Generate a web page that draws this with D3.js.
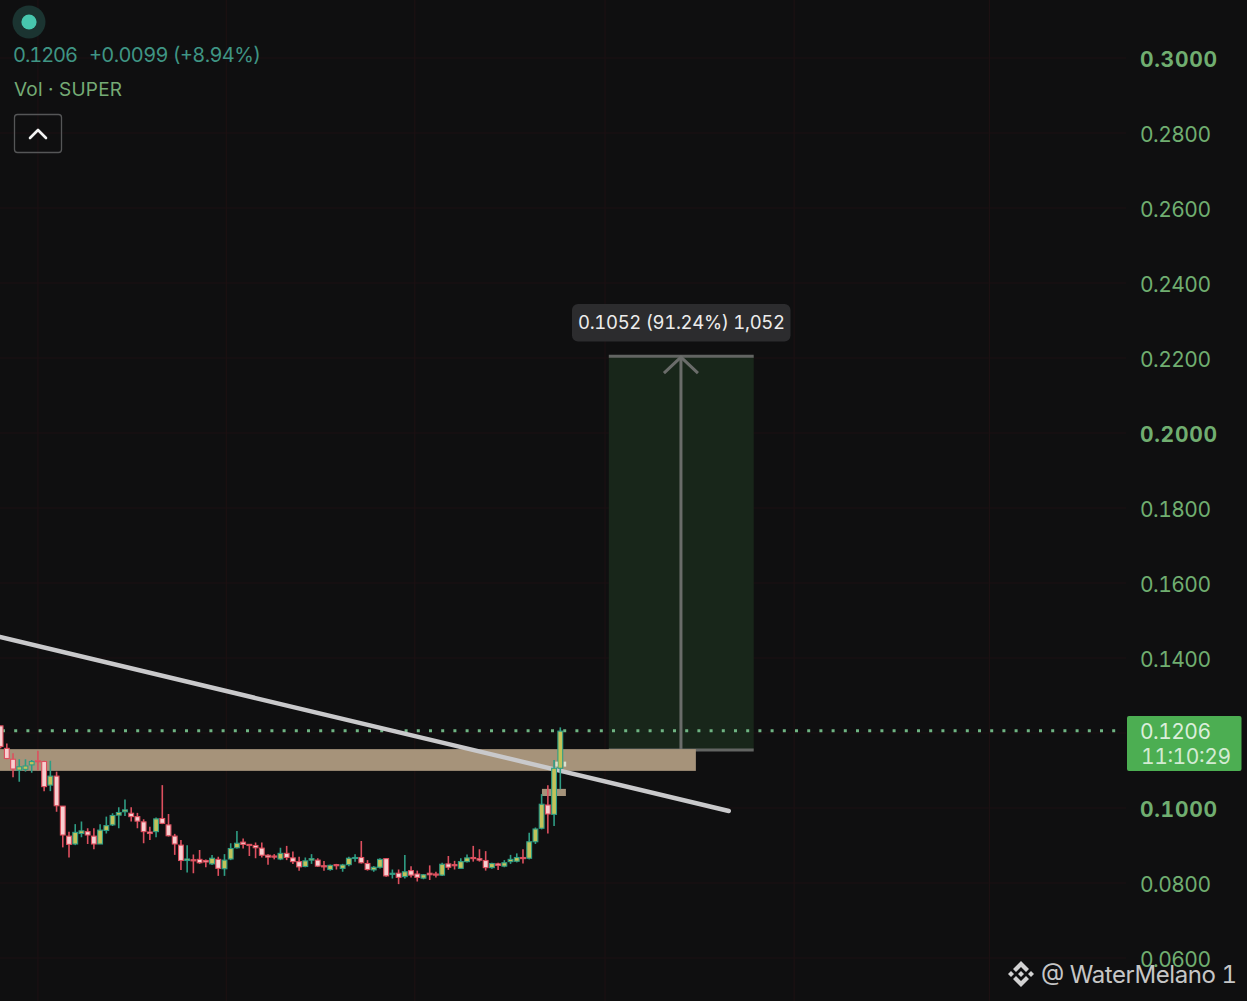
<!DOCTYPE html>
<html>
<head>
<meta charset="utf-8">
<script src="https://cdn.jsdelivr.net/npm/d3@7/dist/d3.min.js"></script>
<style>
html,body{margin:0;padding:0;background:#0f0f10;overflow:hidden}
svg{display:block}
text{font-family:Inter,"Open Sans",sans-serif;font-feature-settings:"tnum" 1;font-variant-numeric:tabular-nums}
</style>
</head>
<body>
<svg id="chart" width="1247" height="1001"></svg>
<script>
const opens=[0.1219,0.1159,0.1130,0.1101,0.1103,0.1115,0.1126,0.1124,0.1061,0.1085,
0.1005,0.0925,0.0904,0.0932,0.0937,0.0925,0.0904,0.0940,0.0955,0.0981,
0.0990,0.0986,0.0977,0.0963,0.0936,0.0937,0.0972,0.0955,0.0925,0.0901,
0.0860,0.0862,0.0863,0.0860,0.0851,0.0863,0.0838,0.0864,0.0894,0.0909,
0.0903,0.0900,0.0893,0.0874,0.0872,0.0864,0.0879,0.0867,0.0857,0.0844,
0.0861,0.0861,0.0846,0.0836,0.0849,0.0839,0.0849,0.0866,0.0868,0.0852,
0.0835,0.0842,0.0865,0.0823,0.0826,0.0817,0.0833,0.0824,0.0813,0.0826,
0.0824,0.0821,0.0851,0.0849,0.0839,0.0857,0.0868,0.0865,0.0860,0.0841,
0.0851,0.0845,0.0857,0.0858,0.0868,0.0866,0.0910,0.0946,0.1008,0.0983,
0.1106];
const closes=[0.1164,0.1132,0.1104,0.1110,0.1112,0.1124,0.1124,0.1057,0.1085,0.1006,
0.0928,0.0903,0.0935,0.0939,0.0928,0.0904,0.0941,0.0953,0.0980,0.0988,
0.0995,0.0977,0.0965,0.0937,0.0932,0.0971,0.0959,0.0926,0.0904,0.0860,
0.0864,0.0859,0.0854,0.0856,0.0866,0.0839,0.0861,0.0892,0.0906,0.0903,
0.0900,0.0894,0.0874,0.0869,0.0869,0.0879,0.0868,0.0857,0.0843,0.0859,
0.0865,0.0845,0.0843,0.0847,0.0846,0.0848,0.0866,0.0868,0.0854,0.0836,
0.0842,0.0863,0.0819,0.0826,0.0815,0.0830,0.0821,0.0815,0.0822,0.0822,
0.0821,0.0850,0.0842,0.0846,0.0857,0.0867,0.0865,0.0861,0.0841,0.0852,
0.0847,0.0854,0.0863,0.0868,0.0865,0.0910,0.0944,0.1010,0.0984,0.1106,
0.1205];
const highs=[0.1219,0.1172,0.1146,0.1130,0.1130,0.1128,0.1153,0.1126,0.1126,0.1097,
0.1005,0.0937,0.0957,0.0964,0.0946,0.0946,0.0957,0.0977,0.0986,0.1002,
0.1023,0.1002,0.0987,0.0970,0.0950,0.0975,0.1061,0.0984,0.0931,0.0915,
0.0901,0.0876,0.0888,0.0863,0.0875,0.0870,0.0877,0.0906,0.0939,0.0919,
0.0903,0.0908,0.0908,0.0877,0.0877,0.0894,0.0899,0.0884,0.0870,0.0868,
0.0877,0.0866,0.0859,0.0849,0.0851,0.0851,0.0870,0.0877,0.0912,0.0861,
0.0845,0.0866,0.0867,0.0836,0.0836,0.0875,0.0845,0.0833,0.0824,0.0847,
0.0830,0.0854,0.0872,0.0859,0.0866,0.0876,0.0899,0.0890,0.0885,0.0854,
0.0854,0.0861,0.0875,0.0879,0.0890,0.0934,0.0948,0.1037,0.1061,0.1128,
0.1215];
const lows=[0.1159,0.1130,0.1082,0.1070,0.1097,0.1094,0.1101,0.1045,0.1045,0.0990,
0.0895,0.0868,0.0901,0.0922,0.0904,0.0890,0.0904,0.0932,0.0952,0.0946,
0.0979,0.0964,0.0946,0.0906,0.0915,0.0922,0.0957,0.0924,0.0875,0.0835,
0.0828,0.0826,0.0851,0.0842,0.0848,0.0819,0.0819,0.0861,0.0892,0.0892,
0.0872,0.0866,0.0868,0.0849,0.0863,0.0861,0.0861,0.0851,0.0833,0.0842,
0.0851,0.0843,0.0833,0.0833,0.0836,0.0830,0.0845,0.0857,0.0852,0.0833,
0.0830,0.0839,0.0817,0.0812,0.0797,0.0812,0.0815,0.0804,0.0810,0.0808,
0.0815,0.0819,0.0835,0.0836,0.0839,0.0855,0.0857,0.0857,0.0833,0.0838,
0.0835,0.0842,0.0851,0.0855,0.0852,0.0863,0.0904,0.0943,0.0932,0.0952,
0.1050];
const priceTicks=[0.30,0.28,0.26,0.24,0.22,0.20,0.18,0.16,0.14,0.10,0.08,0.06];
const boldTicks=[0.30,0.20,0.10];
const gridIndices=[6,36.3,66.6,97.2,127.6,159];
const lastPrice=0.1206;
const countdown="11:10:29";
const headerPrice="0.1206", headerChange="+0.0099 (+8.94%)", volLabel="Vol · SUPER";
const measureLabel="0.1052 (91.24%) 1,052";
const watermark="@ WaterMelano 1";
// drawings, in chart coordinates (bar index, price)
const zoneBand=[-2,111.8,0.1157,0.1099];
const smallBand=[87.05,90.9,0.1051,0.1032];
const trendLine=[[-0.1,0.1456],[117.1,0.0992]];
const measureBox=[97.8,121.1,0.1155,0.2205];
const measureArrowIndex=109.4;
const tickMarks=[[89.4,0.1117],[90.75,0.1117]];

const svg=d3.select("#chart");
const x=d3.scaleLinear().domain([0,90]).range([0.6,560.3]);
const y=d3.scaleLinear().domain([0.06,0.30]).range([958,58]);
const plotRight=1126;

svg.append("rect").attr("width",1247).attr("height",1001).attr("fill","#0f0f10");
const defs=svg.append("defs");
const softF=defs.append("filter").attr("id","soft").attr("x","-5%").attr("y","-5%").attr("width","110%").attr("height","110%");
softF.append("feGaussianBlur").attr("stdDeviation",0.5);

// grid
const grid=svg.append("g").attr("stroke","#1c1113").attr("stroke-width",1.2);
grid.selectAll(".h").data(priceTicks.concat([0.12])).join("line")
  .attr("x1",0).attr("x2",plotRight).attr("y1",d=>y(d)).attr("y2",d=>y(d));
grid.selectAll(".v").data(gridIndices).join("line")
  .attr("x1",d=>x(d)).attr("x2",d=>x(d)).attr("y1",0).attr("y2",1001);

// measure box
const mb=svg.append("g");
mb.append("rect").attr("x",x(measureBox[0])).attr("width",x(measureBox[1])-x(measureBox[0]))
  .attr("y",y(measureBox[3])).attr("height",y(measureBox[2])-y(measureBox[3])).attr("fill","#18261a");
[measureBox[3],measureBox[2]].forEach(p=>{
  mb.append("line").attr("x1",x(measureBox[0])).attr("x2",x(measureBox[1]))
    .attr("y1",y(p)).attr("y2",y(p)).attr("stroke","#626462").attr("stroke-width",3);
});
const ax=x(measureArrowIndex), at=y(measureBox[3]);
mb.append("line").attr("x1",ax).attr("x2",ax).attr("y1",at).attr("y2",y(measureBox[2]))
  .attr("stroke","#6a6c6a").attr("stroke-width",3);
mb.append("path").attr("d",d3.line()([[ax-17,at+17],[ax,at+1],[ax+17,at+17]]))
  .attr("fill","none").attr("stroke","#6a6c6a").attr("stroke-width",3);

// tan zones
svg.append("rect").attr("x",x(zoneBand[0])).attr("width",x(zoneBand[1])-x(zoneBand[0]))
  .attr("y",y(zoneBand[2])).attr("height",y(zoneBand[3])-y(zoneBand[2])).attr("fill","#a6937a");
svg.append("rect").attr("x",x(smallBand[0])).attr("width",x(smallBand[1])-x(smallBand[0]))
  .attr("y",y(smallBand[2])).attr("height",y(smallBand[3])-y(smallBand[2])).attr("fill","#a6937a");

// last price dotted line
svg.append("line").attr("x1",2).attr("x2",plotRight-2).attr("y1",y(lastPrice)).attr("y2",y(lastPrice))
  .attr("stroke","#6fb583").attr("stroke-width",3).attr("stroke-dasharray","3 9.2");

// trend line
svg.append("path").attr("d",d3.line().x(d=>x(d[0])).y(d=>y(d[1]))(trendLine))
  .attr("fill","none").attr("stroke","#c9c9cb").attr("stroke-width",4.4).attr("stroke-linecap","round");

// candles
const candles=opens.map((o,i)=>({i,o,c:closes[i],h:highs[i],l:lows[i],up:closes[i]>=o}));
const cg=svg.append("g").attr("filter","url(#soft)");
const bar=cg.selectAll("g").data(candles).join("g");
bar.append("line").attr("x1",d=>x(d.i)).attr("x2",d=>x(d.i))
  .attr("y1",d=>y(d.h)).attr("y2",d=>y(d.l))
  .attr("stroke",d=>d.up?"#2f9d84":"#dd4f5e").attr("stroke-width",1.6);
bar.append("rect").attr("x",d=>x(d.i)-2.4).attr("width",4.8)
  .attr("y",d=>y(Math.max(d.o,d.c)))
  .attr("height",d=>Math.max(1,Math.abs(y(d.o)-y(d.c))))
  .attr("fill",d=>d.up?"#c2c25a":"#f8cfd0")
  .attr("stroke",d=>d.up?"#2f9d84":"#dd4f5e").attr("stroke-width",1.1);
cg.selectAll(".tick-mark").data(tickMarks).join("rect").attr("class","tick-mark")
  .attr("x",d=>x(d[0])-1.2).attr("width",2.4).attr("y",d=>y(d[1])-2.5).attr("height",5).attr("fill","#d9e2cf");

// price axis
svg.append("g").selectAll("text").data(priceTicks).join("text")
  .attr("x",1140).attr("y",d=>y(d)+8.5).attr("font-size",21)
  .attr("font-weight",d=>boldTicks.includes(d)?700:400)
  .attr("fill","#70ae70")
  .attr("textLength",d=>boldTicks.includes(d)?77:71)
  .text(d=>d3.format(".4f")(d));

// last price label
svg.append("rect").attr("x",1127).attr("y",716).attr("width",114.5).attr("height",55).attr("rx",2).attr("fill","#4cae52");
svg.append("text").attr("x",1140).attr("y",739).attr("font-size",21).attr("textLength",71).attr("fill","#dbeedb").text(d3.format(".4f")(lastPrice));
svg.append("text").attr("x",1141).attr("y",764).attr("font-size",21).attr("textLength",90).attr("fill","#d3ebd3").text(countdown);

// header
svg.append("circle").attr("cx",29).attr("cy",22).attr("r",16.5).attr("fill","#1b3431");
svg.append("circle").attr("cx",29).attr("cy",22).attr("r",7.6).attr("fill","#47c7ae");
svg.append("text").attr("x",13).attr("y",61.5).attr("font-size",20).attr("textLength",65).attr("fill","#3f9584").text(headerPrice);
svg.append("text").attr("x",89).attr("y",61.5).attr("font-size",20).attr("textLength",172).attr("fill","#3f9584").text(headerChange);
svg.append("text").attr("x",14).attr("y",96).attr("font-size",19).attr("textLength",108).attr("fill","#75ab75").text(volLabel);
svg.append("rect").attr("x",14.5).attr("y",114.5).attr("width",47).attr("height",38).attr("rx",3).attr("fill","none").attr("stroke","#555657").attr("stroke-width",1.3);
svg.append("path").attr("d","M30,138 L38,130 L46,138").attr("fill","none").attr("stroke","#f2f2f2").attr("stroke-width",2.6).attr("stroke-linecap","round").attr("stroke-linejoin","round");

// tooltip
svg.append("rect").attr("x",572).attr("y",304).attr("width",218.5).attr("height",37.5).attr("rx",6).attr("fill","#2c2c2e");
svg.append("text").attr("x",578).attr("y",329).attr("font-size",18.5).attr("textLength",207).attr("fill","#ececec").text(measureLabel);

// watermark
const wm=svg.append("g").attr("transform","translate(1021,974)").attr("fill","#d2d2d2");
wm.append("path").attr("d","M0,-13 L8,-5 L5,-2 L0,-7 L-5,-2 L-8,-5 Z");
wm.append("path").attr("d","M0,13 L8,5 L5,2 L0,7 L-5,2 L-8,5 Z");
wm.append("path").attr("d","M-13,0 L-10,-3 L-7,0 L-10,3 Z");
wm.append("path").attr("d","M13,0 L10,-3 L7,0 L10,3 Z");
wm.append("path").attr("d","M0,-3 L3,0 L0,3 L-3,0 Z");
svg.append("text").attr("x",1041).attr("y",983).attr("font-size",24).attr("textLength",196).attr("fill","#c6c6c6").text(watermark);
</script>
</body>
</html>
